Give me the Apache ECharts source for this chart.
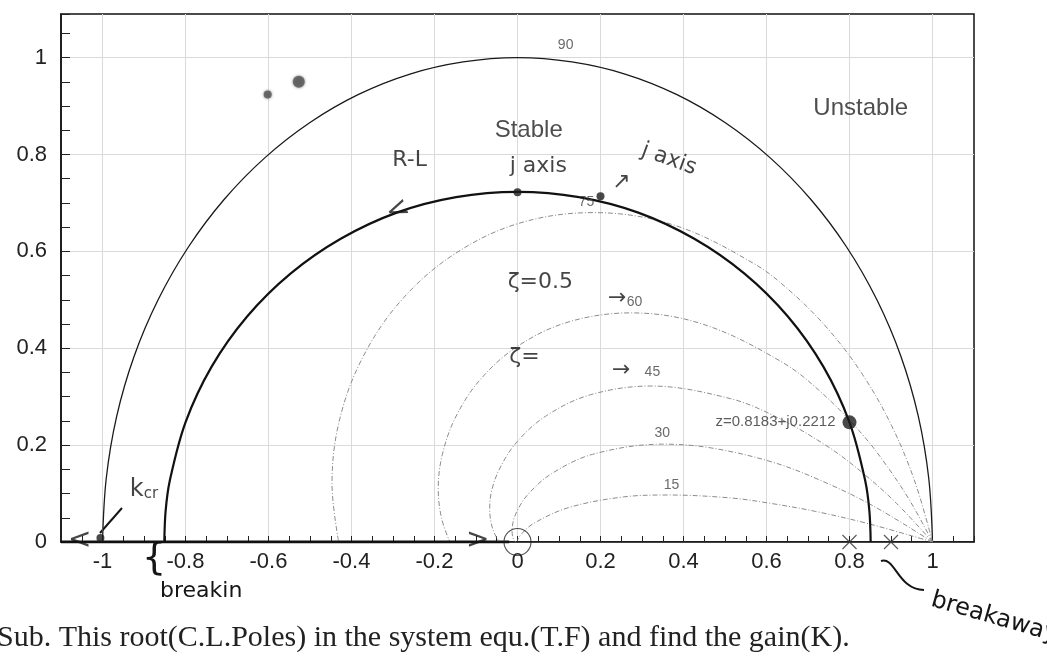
<!DOCTYPE html>
<html><head><meta charset="utf-8">
<script src="https://cdn.jsdelivr.net/npm/echarts@6/dist/echarts.min.js"></script>
<style>html,body{margin:0;padding:0;background:#fff}#c{width:1047px;height:666px}</style>
</head><body><div id="c"></div>
<script>
// ---- axis ticks ----
const xTickLabels = [-1, -0.8, -0.6, -0.4, -0.2, 0, 0.2, 0.4, 0.6, 0.8, 1];
const yTickLabels = [0, 0.2, 0.4, 0.6, 0.8, 1];

// ---- constant damping curves ----
const curve90 = [[1,0],[0.991,0.131],[0.966,0.259],[0.924,0.383],[0.866,0.5],[0.793,0.609],[0.707,0.707],[0.609,0.793],[0.5,0.866],[0.383,0.924],[0.259,0.966],[0.131,0.991],[0,1],[-0.131,0.991],[-0.259,0.966],[-0.383,0.924],[-0.5,0.866],[-0.609,0.793],[-0.707,0.707],[-0.793,0.609],[-0.866,0.5],[-0.924,0.383],[-0.966,0.259],[-0.991,0.131],[-1,0]];
const curve75 = [[1,0],[0.957,0.126],[0.901,0.241],[0.832,0.345],[0.753,0.435],[0.666,0.511],[0.573,0.573],[0.378,0.654],[0.182,0.680],[0,0.657],[-0.158,0.591],[-0.285,0.494],[-0.376,0.376],[-0.430,0.248],[-0.447,0.120],[-0.431,0]];
const curve60 = [[1,0],[0.947,0.083],[0.890,0.157],[0.830,0.223],[0.737,0.305],[0.640,0.370],[0.449,0.449],[0.273,0.473],[0.122,0.454],[0,0.404],[-0.090,0.335],[-0.149,0.258],[-0.181,0.181],[-0.191,0.110],[-0.183,0.049],[-0.163,0]];
const curve45 = [[1,0],[0.913,0.080],[0.827,0.146],[0.744,0.199],[0.624,0.258],[0.513,0.296],[0.322,0.322],[0.176,0.304],[0.070,0.261],[0,0.208],[-0.041,0.155],[-0.062,0.107],[-0.067,0.067],[-0.063,0.037],[-0.054,0.015],[-0.043,0]];
const curve30 = [[1,0],[0.856,0.075],[0.728,0.128],[0.614,0.165],[0.468,0.194],[0.350,0.202],[0.181,0.181],[0.082,0.141],[0.027,0.100],[0,0.066],[-0.011,0.040],[-0.013,0.023],[-0.012,0.012],[-0.009,0.005],[-0.004,0]];
const curve15 = [[1,0],[0.849,0.037],[0.719,0.063],[0.608,0.080],[0.513,0.091],[0.363,0.097],[0.255,0.093],[0.123,0.071],[0.038,0.038],[0.010,0.017],[0.002,0.007],[0,0.003]];
const curveNames = ['90', '75', '60', '45', '30', '15'];
const curveLabelPos = [[0.116,1.025],[0.166,0.702],[0.282,0.496],[0.325,0.351],[0.349,0.225],[0.371,0.118]];

// ---- root locus ----
const rootLocus = [[0.851,0],[0.848,0.063],[0.838,0.126],[0.800,0.247],[0.737,0.362],[0.652,0.465],[0.547,0.554],[0.426,0.626],[0.291,0.680],[0.148,0.712],[0,0.723],[-0.148,0.712],[-0.291,0.680],[-0.426,0.626],[-0.547,0.554],[-0.652,0.465],[-0.737,0.362],[-0.800,0.247],[-0.838,0.126],[-0.848,0.063],[-0.851,0]];
const rootLocusReal = [[-1.1,0],[-0.02,0]];
const poles = [[0.8,0],[0.9,0]];
const zeros = [[0,0]];
const chosenPoint = [[0.8,0.247]];
const chosenLabel = 'z=0.8183+j0.2212';
const markedPoints = [[0,0.722],[0.2,0.714],[-1.005,0.008]];
const smudges = [[-0.602,0.924],[-0.527,0.95]];

// ---- texts in the plot ----
const regionTexts = ['Stable', 'Unstable'];
const regionPos = [[0.027,0.849],[0.827,0.895]];
const noteTexts = ['R-L', 'j axis', 'j axis', '↗', 'ζ=0.5', '→', 'ζ=', '→', '{k|k}{s|cr}', '<', '>', '<'];
const notePos = [[-0.26,0.789],[0.05,0.775],[0.365,0.79],[0.25,0.742],[0.055,0.537],[0.24,0.504],[0.017,0.382],[0.25,0.355],[-0.9,0.107],[-1.055,0.002],[-0.096,0.002],[-0.288,0.684]];
const noteRotate = [0, 0, -20, 0, 0, 0, 0, 0, 0, 0, 0, 22];
const footText = 'Sub. This root(C.L.Poles) in the system equ.(T.F) and find the gain(K).';

const HAND = 'DejaVu Sans';
const SANS = 'Liberation Sans, Arial, sans-serif';

function lineSeries(data, style) {
  return { type: 'line', data: data, xAxisIndex: 0, yAxisIndex: 0, symbol: 'none', smooth: 0.35,
    lineStyle: style, silent: true, z: 3 };
}
const dashStyle = { color: '#8c8c8c', width: 1, type: [5, 2, 1, 2] };

const series = [
  lineSeries(curve90, { color: '#1a1a1a', width: 1.3 }),
  lineSeries(curve75, dashStyle),
  lineSeries(curve60, dashStyle),
  lineSeries(curve45, dashStyle),
  lineSeries(curve30, dashStyle),
  lineSeries(curve15, dashStyle),
  Object.assign(lineSeries(rootLocus, { color: '#111', width: 2.2 }), { z: 5 }),
  Object.assign(lineSeries(rootLocusReal, { color: '#111', width: 3.2 }), { smooth: false, z: 5 }),
  { type: 'scatter', data: poles, symbol: 'path://M0,0L10,10M10,0L0,10', symbolSize: 14,
    itemStyle: { color: 'none', borderColor: '#333', borderWidth: 1.2 }, z: 6, silent: true },
  { type: 'scatter', data: zeros, symbol: 'circle', symbolSize: 27,
    itemStyle: { color: 'rgba(0,0,0,0)', borderColor: '#222', borderWidth: 1.1 }, z: 6, silent: true },
  { type: 'scatter', data: chosenPoint, symbol: 'circle', symbolSize: 14,
    itemStyle: { color: '#1c1c1c' }, z: 7, silent: true,
    label: { show: true, position: 'left', distance: 7, formatter: chosenLabel,
      fontFamily: SANS, fontSize: 15, color: '#333' } },
  { type: 'scatter', data: markedPoints, symbol: 'circle', symbolSize: 8,
    itemStyle: { color: '#1c1c1c' }, z: 7, silent: true },
  { type: 'scatter', data: smudges, symbol: 'circle', symbolSize: (v, p) => p.dataIndex === 0 ? 8 : 12,
    itemStyle: { color: '#555', shadowBlur: 3, shadowColor: '#777' }, z: 7, silent: true },
  { type: 'scatter', symbolSize: 0, silent: true, z: 8,
    data: curveLabelPos.map((p, i) => ({ value: p, name: curveNames[i] })),
    label: { show: true, position: 'inside', formatter: '{b}', fontFamily: SANS, fontSize: 14, color: '#444' } },
  { type: 'scatter', symbolSize: 0, silent: true, z: 8,
    data: regionPos.map((p, i) => ({ value: p, name: regionTexts[i] })),
    label: { show: true, position: 'inside', formatter: '{b}', fontFamily: SANS, fontSize: 24, color: '#222' } },
  { type: 'scatter', symbolSize: 0, silent: true, z: 9, clip: false,
    data: notePos.map((p, i) => ({ value: p, name: noteTexts[i],
      label: { rotate: noteRotate[i], fontSize: (noteTexts[i] === '<' || noteTexts[i] === '>') ? 28 : 22 } })),
    label: { show: true, position: 'inside', formatter: '{b}', fontFamily: HAND, color: '#151515',
      rich: { k: { fontFamily: HAND, fontSize: 24, color: '#151515' }, s: { fontFamily: HAND, fontSize: 15, color: '#151515', padding: [8, 0, 0, 0] } } } }
];

const option = {
  animation: false,
  backgroundColor: '#fff',
  grid: { left: 61, right: 73, top: 14, bottom: 124, show: true, borderColor: '#111', borderWidth: 1.5, containLabel: false },
  xAxis: [
    { type: 'value', position: 'bottom', min: -1.1, max: 1.1,
      axisLine: { show: true, onZero: false, lineStyle: { color: '#111', width: 1.5 } },
      axisTick: { show: false, customValues: xTickLabels },
      axisLabel: { customValues: xTickLabels, fontFamily: SANS, fontSize: 22, color: '#222', margin: 9 },
      splitLine: { show: true, lineStyle: { color: '#dadada', width: 1 } } },
    { type: 'value', position: 'bottom', min: -1.1, max: 1.1, interval: 0.05,
      axisLine: { show: false, onZero: false }, axisLabel: { show: false }, splitLine: { show: false },
      axisTick: { show: true, inside: true, length: 6, lineStyle: { color: '#222', width: 1 } } }
  ],
  yAxis: [
    { type: 'value', position: 'left', min: 0, max: 1.09,
      axisLine: { show: true, onZero: false, lineStyle: { color: '#111', width: 1.5 } },
      axisTick: { show: false, customValues: yTickLabels },
      axisLabel: { customValues: yTickLabels, fontFamily: SANS, fontSize: 22, color: '#222', margin: 14 },
      splitLine: { show: true, lineStyle: { color: '#dadada', width: 1 } } },
    { type: 'value', position: 'left', min: 0, max: 1.09, interval: 0.05,
      axisLine: { show: false, onZero: false }, axisLabel: { show: false }, splitLine: { show: false },
      axisTick: { show: true, inside: true, length: 9, lineStyle: { color: '#222', width: 1 } } }
  ],
  series: series,
  graphic: [
    { type: 'text', left: -3, top: 623, style: { text: footText, font: '30px "Liberation Serif", "Times New Roman", serif', fill: '#222' } },
    { type: 'text', left: 160, top: 580, style: { text: 'breakin', font: '22px "DejaVu Sans"', fill: '#151515' } },
    { type: 'text', left: 142, top: 540, style: { text: '{', font: '38px "DejaVu Sans"', fill: '#151515' } },
    { type: 'text', x: 935, y: 588, rotation: -0.28, style: { text: 'breakaway', font: '24px "DejaVu Sans"', fill: '#151515' } },
    { type: 'line', shape: { x1: 100, y1: 533, x2: 122, y2: 508 }, style: { stroke: '#151515', lineWidth: 2 } },
    { type: 'bezierCurve', shape: { x1: 881, y1: 561, cpx1: 895, cpy1: 556, cpx2: 898, cpy2: 590, x2: 924, y2: 590 }, style: { stroke: '#151515', lineWidth: 2, fill: 'none' } }
  ]
};
const chart = echarts.init(document.getElementById('c'));
chart.setOption(option);
</script></body></html>
